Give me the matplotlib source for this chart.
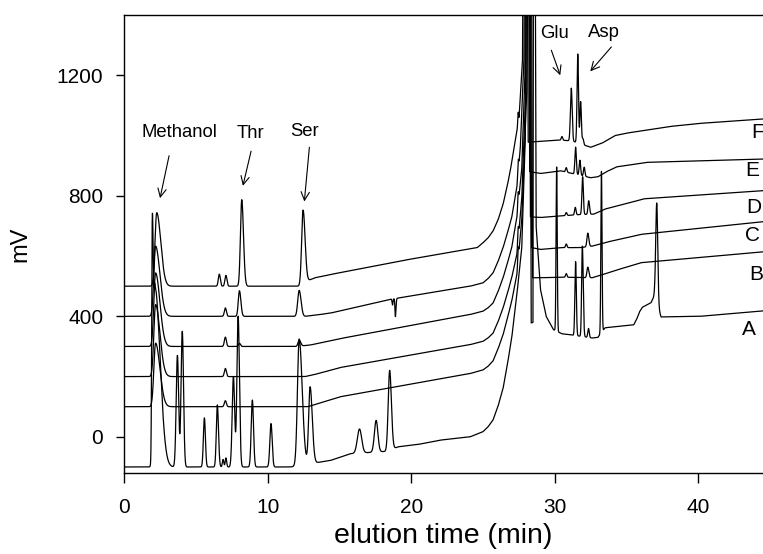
import numpy as np
import matplotlib.pyplot as plt

plt.rcParams["font.family"] = ["Liberation Sans", "DejaVu Sans"]

# ---- data (time in min, signal in mV) ----
# baseline / drift knots: (time, mV)
A_knots = [(0, -100), (11.6, -100), (13.5, -85), (14.4, -78), (15.75, -56), (18.3, -48),
           (19.1, -33), (20.5, -25), (22.0, -11), (24.1, 0), (25.0, 17), (25.35, 33),
           (25.7, 56), (26.05, 102), (26.4, 161), (26.7, 240), (27.0, 328), (27.36, 472),
           (27.7, 628), (27.95, 1000), (28.2, 3000), (28.36, 378), (28.48, 380), (28.55, 3000),
           (28.7, 700), (29.0, 490), (29.4, 400), (29.9, 356), (30.5, 342), (31.2, 338),
           (32.6, 328), (33.0, 330), (33.5, 362), (35.5, 372), (35.7, 390), (35.9, 415),
           (36.1, 430), (36.7, 445), (36.95, 470), (37.4, 398), (40.1, 400), (44.5, 418)]
B_knots = [(0, 100), (12.8, 100), (13.5, 110), (15.05, 133), (24.1, 210), (25.0, 222),
           (25.35, 234), (25.7, 252), (26.05, 292), (26.4, 339), (26.7, 393), (27.0, 450),
           (27.36, 539), (27.7, 720), (28.05, 1150), (28.3, 3000), (28.45, 528), (29.0, 528),
           (30.4, 530), (32.6, 528), (33.3, 538), (34.2, 552), (36.0, 578), (44.5, 614)]
C_knots = [(0, 200), (12.6, 200), (13.2, 206), (15.05, 230), (24.1, 306), (25.0, 317),
           (25.35, 328), (25.7, 344), (26.05, 382), (26.4, 428), (26.7, 476), (27.0, 528),
           (27.36, 606), (27.7, 790), (27.98, 1150), (28.2, 3000), (28.38, 628), (29.0, 622),
           (30.4, 628), (31.8, 628), (32.6, 633), (33.6, 646), (36.0, 672), (44.5, 714)]
D_knots = [(0, 300), (12.0, 300), (13.0, 305), (15.05, 326), (24.1, 406), (25.0, 417),
           (25.35, 428), (25.7, 444), (26.05, 482), (26.4, 528), (26.7, 576), (27.0, 628),
           (27.36, 728), (27.7, 890), (27.92, 1200), (28.12, 3000), (28.3, 730), (29.0, 728),
           (30.4, 733), (31.8, 738), (32.7, 739), (33.5, 756), (35.3, 778), (36.2, 790),
           (44.5, 817)]
E_knots = [(0, 400), (12.6, 400), (13.5, 405), (14.4, 411), (18.5, 456), (24.1, 500),
           (25.0, 511), (25.35, 525), (25.7, 544), (26.05, 582), (26.4, 628), (26.7, 676),
           (27.0, 728), (27.36, 828), (27.6, 960), (27.85, 1250), (28.05, 3000), (28.25, 880),
           (29.0, 874), (30.4, 883), (32.5, 860), (33.0, 863), (33.6, 880), (34.3, 896),
           (36.4, 911), (44.5, 922)]
F_knots = [(0, 500), (12.3, 500), (12.9, 520), (13.3, 528), (14.4, 539), (19.5, 586),
           (24.6, 628), (25.0, 644), (25.35, 660), (25.7, 683), (26.05, 720), (26.4, 772),
           (26.7, 835), (26.9, 883), (27.1, 940), (27.25, 983), (27.5, 1050), (27.75, 1250),
           (27.95, 3000), (28.15, 978), (30.4, 985), (31.2, 982), (32.5, 961), (33.3, 975),
           (34.2, 1000), (35.0, 1008), (38.0, 1030), (40.0, 1040), (44.5, 1055)]

# peaks: (retention time, height mV, left width, right width)
A_peaks = [(1.97, 710, 0.04, 0.06), (2.15, 600, 0.10, 0.36), (3.72, 370, 0.085, 0.085),
           (4.06, 450, 0.085, 0.085), (5.60, 163, 0.07, 0.07), (6.50, 206, 0.07, 0.08),
           (6.90, 25, 0.05, 0.05), (7.10, 30, 0.05, 0.05), (7.62, 300, 0.085, 0.085),
           (7.95, 500, 0.085, 0.09), (8.94, 222, 0.08, 0.08), (10.24, 144, 0.08, 0.08),
           (12.20, 420, 0.12, 0.21), (12.96, 255, 0.10, 0.15), (16.40, 80, 0.15, 0.15),
           (17.56, 105, 0.12, 0.12), (18.50, 265, 0.10, 0.12), (30.13, 545, 0.04, 0.04),
           (31.45, 245, 0.05, 0.05), (31.92, 300, 0.05, 0.06), (32.35, 30, 0.05, 0.05),
           (33.25, 535, 0.04, 0.04), (37.10, 330, 0.07, 0.07)]
B_peaks = [(2.20, 211, 0.12, 0.30), (7.06, 20, 0.07, 0.07), (27.45, 40, 0.03, 0.03),
           (30.80, 12, 0.05, 0.05), (32.30, 35, 0.06, 0.07)]
C_peaks = [(2.20, 239, 0.12, 0.30), (7.06, 27, 0.07, 0.07), (27.45, 40, 0.03, 0.03),
           (30.80, 12, 0.05, 0.05), (32.30, 45, 0.06, 0.07)]
D_peaks = [(2.20, 244, 0.12, 0.30), (7.06, 31, 0.07, 0.07), (8.05, 10, 0.07, 0.07),
           (12.20, 20, 0.08, 0.10), (27.45, 40, 0.03, 0.03), (30.80, 10, 0.05, 0.05),
           (31.43, 25, 0.05, 0.05), (31.94, 125, 0.05, 0.05), (32.36, 45, 0.05, 0.06)]
E_peaks = [(2.20, 233, 0.12, 0.30), (7.06, 28, 0.07, 0.07), (8.04, 85, 0.08, 0.10),
           (12.20, 86, 0.10, 0.13), (18.70, -20, 0.03, 0.03), (18.90, -60, 0.03, 0.04),
           (27.45, 40, 0.03, 0.03), (30.80, 15, 0.05, 0.05), (31.45, 90, 0.05, 0.05),
           (31.75, 50, 0.05, 0.05), (32.05, 30, 0.05, 0.05)]
F_peaks = [(2.28, 244, 0.12, 0.28), (6.64, 40, 0.07, 0.07), (7.10, 36, 0.07, 0.07),
           (8.20, 287, 0.09, 0.12), (12.47, 247, 0.10, 0.14), (27.45, 40, 0.03, 0.03),
           (30.50, 12, 0.05, 0.05), (31.15, 175, 0.06, 0.06), (31.60, 295, 0.05, 0.05),
           (31.80, 140, 0.05, 0.05), (31.96, 20, 0.05, 0.05)]

trace_names = ["A", "B", "C", "D", "E", "F"]
trace_label_pos = [(43.5, 356), (44.05, 539), (43.75, 667), (43.85, 761), (43.75, 883), (44.1, 1011)]

compound_names = ["Methanol", "Thr", "Ser", "Glu", "Asp"]
compound_text_pos = [(3.85, 1011), (8.8, 1006), (12.6, 1014), (29.97, 1339), (33.45, 1341)]
compound_arrow_tail = [(3.14, 933), (8.85, 948), (12.91, 961), (29.76, 1283), (33.94, 1294)]
compound_arrow_tip = [(2.51, 792), (8.28, 833), (12.56, 781), (30.38, 1200), (32.47, 1213)]

t = np.linspace(0, 44.5, 8901)


def build_trace(knots, peaks):
    kt, kv = zip(*knots)
    y = np.interp(t, kt, kv)
    for c, h, wl, wr in peaks:
        w = np.where(t < c, wl, wr)
        y = y + h * np.exp(-0.5 * ((t - c) / w) ** 2)
    return y


traces = [build_trace(A_knots, A_peaks), build_trace(B_knots, B_peaks),
          build_trace(C_knots, C_peaks), build_trace(D_knots, D_peaks),
          build_trace(E_knots, E_peaks), build_trace(F_knots, F_peaks)]

fig = plt.figure(figsize=(7.63, 5.54), dpi=100)
ax = fig.add_axes([0.1625, 0.1462, 0.8375, 0.8267])

for y in traces:
    ax.plot(t, y, color="black", lw=0.9)

for name, (x, y) in zip(trace_names, trace_label_pos):
    ax.text(x, y, name, ha="center", va="center", fontsize=15)

for name, pos, tail, tip in zip(compound_names, compound_text_pos,
                                compound_arrow_tail, compound_arrow_tip):
    ax.text(pos[0], pos[1], name, ha="center", va="center", fontsize=13.3)
    ax.annotate("", xy=tip, xytext=tail,
                arrowprops=dict(arrowstyle="->,head_length=0.6,head_width=0.3",
                                color="black", lw=0.8, shrinkA=0, shrinkB=0))

ax.set_xlim(0, 44.5)
ax.set_ylim(-120, 1400)
ax.set_xticks([0, 10, 20, 30, 40])
ax.set_yticks([0, 400, 800, 1200])
ax.spines["right"].set_visible(False)
for s in ["left", "top", "bottom"]:
    ax.spines[s].set_linewidth(1.0)
ax.tick_params(axis="x", direction="out", length=7.5, width=1, labelsize=15, pad=10.5)
ax.tick_params(axis="y", direction="out", length=6, width=1, labelsize=15, pad=9)
ax.set_xlabel("elution time (min)", fontsize=20.5, labelpad=4)
ax.set_ylabel("mV", fontsize=17, labelpad=18)

fig.savefig("out.png", dpi=100)
